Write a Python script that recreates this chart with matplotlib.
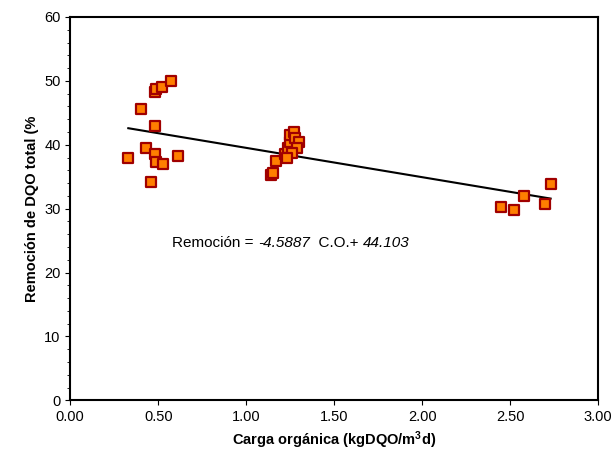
import numpy as np
import matplotlib.pyplot as plt

plt.rcParams['font.family'] = ['Liberation Sans', 'DejaVu Sans']
plt.rcParams['mathtext.fontset'] = 'custom'
plt.rcParams['mathtext.rm'] = 'Liberation Sans'
plt.rcParams['mathtext.bf'] = 'Liberation Sans:bold'

carga = [0.33, 0.40, 0.43, 0.46, 0.48, 0.49, 0.52, 0.57, 0.48, 0.48, 0.49, 0.53, 0.61,
         1.14, 1.15, 1.17, 1.22, 1.24, 1.25, 1.25, 1.27, 1.28, 1.30, 1.29, 1.26, 1.23,
         2.45, 2.52, 2.58, 2.70, 2.73]
remocion = [38.0, 45.6, 39.5, 34.2, 48.3, 48.8, 49.0, 50.0, 43.0, 38.5, 37.3, 37.0, 38.2,
            35.3, 35.6, 37.5, 38.5, 39.5, 40.5, 41.5, 42.0, 41.0, 40.5, 39.5, 38.7, 38.0,
            30.2, 29.8, 32.0, 30.8, 33.9]
pendiente, intercepto = -4.5887, 44.103

fig = plt.figure(figsize=(6.16, 4.71), dpi=100)
ax = fig.add_axes([0.114, 0.150, 0.857, 0.814])
ax.scatter(carga, remocion, marker='s', s=45, c='#ff7f00', edgecolors='#a00000',
           linewidths=1.6, zorder=3)
xl = np.array([min(carga), max(carga)])
ax.plot(xl, pendiente * xl + intercepto, color='black', lw=1.5, zorder=2)

ax.set_xlim(0, 3)
ax.set_ylim(0, 60)
ax.set_xticks(np.arange(0, 3.01, 0.5))
ax.set_xticklabels([f'{v:.2f}' for v in np.arange(0, 3.01, 0.5)])
ax.set_yticks(range(0, 61, 10))
ax.set_yticks(range(0, 61, 2), minor=True)
ax.tick_params(labelsize=10.5, direction='out')
ax.tick_params(axis='x', which='minor', bottom=False)
for s in ax.spines.values():
    s.set_linewidth(1.5)
ax.set_xlabel('Carga orgánica (kgDQO/m$\\mathbf{^3}$d)', fontsize=10.5, fontweight='bold')
ax.set_ylabel('Remoción de DQO total (%', fontsize=10.5, fontweight='bold')

# ecuación en trozos para tener los números en cursiva
partes = [('Remoción = ', 'normal'), (f'{pendiente}', 'italic'),
          ('  C.O.+ ', 'normal'), (f'{intercepto}', 'italic')]
t = ax.text(0.58, 24.0, partes[0][0], fontsize=11)
for txt, estilo in partes[1:]:
    t = ax.annotate(txt, xy=(1, 0), xycoords=t, va='bottom', fontsize=11, style=estilo)

fig.savefig('out.png', dpi=100)
